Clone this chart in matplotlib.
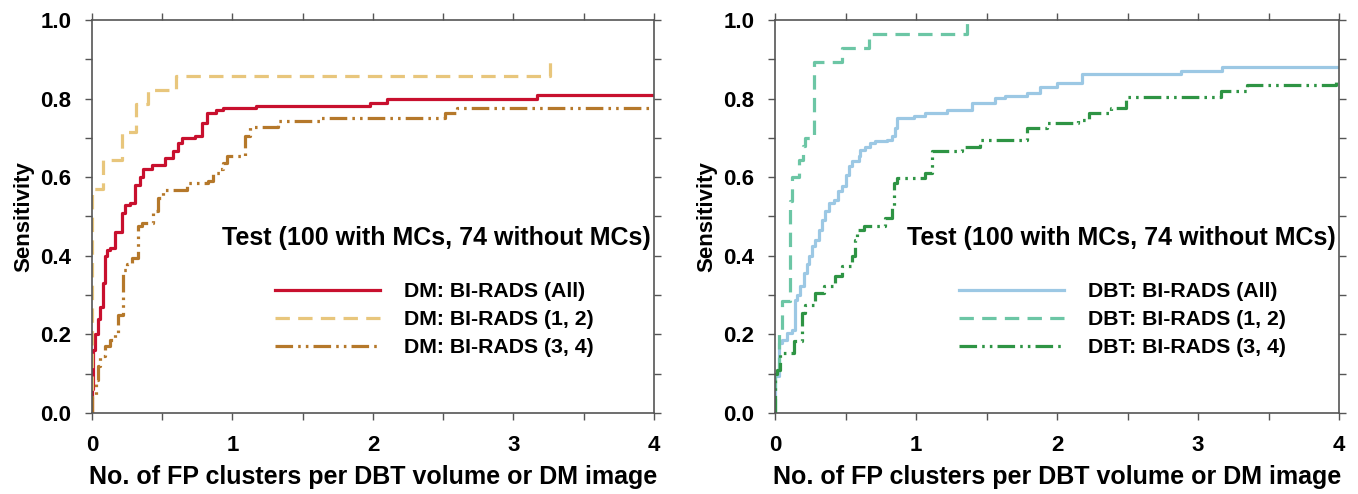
import matplotlib
matplotlib.use("Agg")
import matplotlib.pyplot as plt
from matplotlib.ticker import MultipleLocator

plt.rcParams['font.family'] = ['Liberation Sans', 'DejaVu Sans']
plt.rcParams['font.weight'] = 'bold'

# ---------------- data ----------------
dm_all_x = [0.0, 0.0, 0.01, 0.02, 0.04, 0.057, 0.076, 0.092, 0.104, 0.128, 0.164, 0.211, 0.235, 0.27,
            0.306, 0.341, 0.365, 0.43, 0.519, 0.578, 0.614, 0.638, 0.73, 0.78, 0.815, 0.88, 0.934,
            1.17, 1.98, 2.10, 3.17, 4.0]
dm_all_y = [0.0, 0.06, 0.16, 0.20, 0.24, 0.27, 0.33, 0.40, 0.415, 0.42, 0.46, 0.51, 0.53, 0.534,
            0.58, 0.60, 0.62, 0.63, 0.65, 0.666, 0.687, 0.70, 0.704, 0.738, 0.763, 0.772, 0.776,
            0.78, 0.79, 0.80, 0.81, 0.81]

dm_12_x = [0.0, 0.0, 0.08, 0.21, 0.31, 0.40, 0.60, 3.26]
dm_12_y = [0.0, 0.571, 0.643, 0.714, 0.786, 0.821, 0.857, 0.893]

dm_34_x = [0.0, 0.0, 0.028, 0.045, 0.06, 0.092, 0.128, 0.164, 0.187, 0.218, 0.247, 0.282, 0.33,
           0.353, 0.436, 0.472, 0.507, 0.673, 0.827, 0.863, 0.91, 0.934, 0.958, 1.088, 1.124,
           1.325, 1.62, 2.51, 2.60, 4.0]
dm_34_y = [0.0, 0.04, 0.085, 0.12, 0.144, 0.17, 0.187, 0.204, 0.25, 0.365, 0.38, 0.394, 0.475,
           0.483, 0.513, 0.547, 0.568, 0.585, 0.59, 0.61, 0.62, 0.636, 0.653, 0.704, 0.729,
           0.742, 0.75, 0.763, 0.777, 0.777]

dbt_all_x = [0.0, 0.0, 0.026, 0.05, 0.085, 0.12, 0.144, 0.156, 0.18, 0.203, 0.227, 0.239, 0.262,
             0.286, 0.31, 0.333, 0.357, 0.38, 0.416, 0.45, 0.475, 0.5, 0.522, 0.546, 0.593, 0.605,
             0.64, 0.676, 0.71, 0.794, 0.83, 0.853, 0.865, 0.983, 1.066, 1.22, 1.397, 1.56, 1.63,
             1.787, 1.88, 2.0, 2.18, 2.88, 3.17, 4.0]
dbt_all_y = [0.0, 0.093, 0.178, 0.187, 0.204, 0.212, 0.288, 0.30, 0.322, 0.356, 0.38, 0.399, 0.424,
             0.441, 0.466, 0.492, 0.513, 0.534, 0.543, 0.564, 0.577, 0.606, 0.628, 0.64, 0.653, 0.67,
             0.678, 0.687, 0.691, 0.695, 0.704, 0.725, 0.75, 0.755, 0.763, 0.772, 0.789, 0.801, 0.806,
             0.814, 0.83, 0.84, 0.862, 0.870, 0.881, 0.881]

dbt_12_x = [0.0, 0.0, 0.026, 0.05, 0.105, 0.12, 0.17, 0.2, 0.215, 0.275, 0.475, 0.665, 1.36]
dbt_12_y = [0.0, 0.1, 0.20, 0.286, 0.54, 0.60, 0.643, 0.68, 0.70, 0.893, 0.929, 0.964, 1.0]

dbt_34_x = [0.0, 0.0, 0.014, 0.038, 0.132, 0.19, 0.215, 0.286, 0.345, 0.428, 0.475, 0.546, 0.57,
            0.582, 0.629, 0.783, 0.83, 0.842, 0.865, 1.066, 1.113, 1.326, 1.456, 1.787, 1.93,
            2.15, 2.23, 2.38, 2.49, 3.16, 3.35, 3.98]
dbt_34_y = [0.0, 0.10, 0.11, 0.153, 0.182, 0.254, 0.276, 0.305, 0.322, 0.348, 0.373, 0.40, 0.441,
            0.466, 0.475, 0.496, 0.526, 0.585, 0.598, 0.61, 0.666, 0.678, 0.695, 0.725, 0.737,
            0.746, 0.763, 0.775, 0.805, 0.819, 0.835, 0.847]

labels_dm = ["DM: BI-RADS (All)", "DM: BI-RADS (1, 2)", "DM: BI-RADS (3, 4)"]
labels_dbt = ["DBT: BI-RADS (All)", "DBT: BI-RADS (1, 2)", "DBT: BI-RADS (3, 4)"]
annot = "Test (100 with MCs, 74 without MCs)"
xlabel = "No. of FP clusters per DBT volume or DM image"
ylabel = "Sensitivity"

# ---------------- figure ----------------
fig = plt.figure(figsize=(13.58, 4.94), dpi=100)
ax1 = fig.add_axes([92/1358, 81/494, 562/1358, 393/494])
ax2 = fig.add_axes([775/1358, 81/494, 564/1358, 393/494])

LW = 2.3
dash = (0, (4.5, 2.6))
ddot = (0, (5.5, 1.6, 0.8, 1.6, 0.8, 1.6))

def style(ax):
    ax.set_xlim(0, 4)
    ax.set_ylim(0, 1)
    ax.xaxis.set_major_locator(MultipleLocator(1))
    ax.xaxis.set_minor_locator(MultipleLocator(0.5))
    ax.yaxis.set_major_locator(MultipleLocator(0.2))
    ax.yaxis.set_minor_locator(MultipleLocator(0.1))
    ax.yaxis.set_major_formatter(matplotlib.ticker.FormatStrFormatter('%.1f'))
    for s in ax.spines.values():
        s.set_color('#555555')
        s.set_linewidth(1.2)
    ax.tick_params(which='both', direction='out', top=True, right=True,
                   color='#555555', width=1.0)
    ax.tick_params(which='major', length=5, labelsize=16)
    ax.tick_params(which='minor', length=5)
    ax.tick_params(axis='y', which='major', pad=10)
    ax.tick_params(axis='x', which='major', pad=11)
    for lab in ax.get_xticklabels() + ax.get_yticklabels():
        lab.set_fontweight('bold')
    ax.set_xlabel(xlabel, fontsize=18, fontweight='bold', labelpad=6)
    ax.set_ylabel(ylabel, fontsize=16, fontweight='bold', labelpad=4.5)

# Left panel
ax1.plot(dm_all_x, dm_all_y, drawstyle='steps-post', color='#C8102E', lw=LW, label=labels_dm[0])
ax1.plot(dm_12_x, dm_12_y, drawstyle='steps-post', color='#E8C67C', lw=LW, ls=dash, label=labels_dm[1])
ax1.plot(dm_34_x, dm_34_y, drawstyle='steps-post', color='#B5782A', lw=LW, ls=ddot, label=labels_dm[2])
style(ax1)

# Right panel
ax2.plot(dbt_all_x, dbt_all_y, drawstyle='steps-post', color='#9CC8E4', lw=LW, label=labels_dbt[0])
ax2.plot(dbt_12_x, dbt_12_y, drawstyle='steps-post', color='#6CC6A5', lw=LW, ls=dash, label=labels_dbt[1])
ax2.plot(dbt_34_x, dbt_34_y, drawstyle='steps-post', color='#2E9444', lw=LW, ls=ddot, label=labels_dbt[2])
style(ax2)

for ax in (ax1, ax2):
    ax.text(0.995, 0.445, annot, transform=ax.transAxes, ha='right', va='center',
            fontsize=18, fontweight='bold')
    leg = ax.legend(loc='upper left', bbox_to_anchor=(0.326, 0.333), frameon=False,
                    prop={'size': 15.3, 'weight': 'bold'}, handlelength=4.95,
                    handletextpad=1.12, labelspacing=0.42, borderaxespad=0, borderpad=0)

fig.savefig("out.png", dpi=100)
